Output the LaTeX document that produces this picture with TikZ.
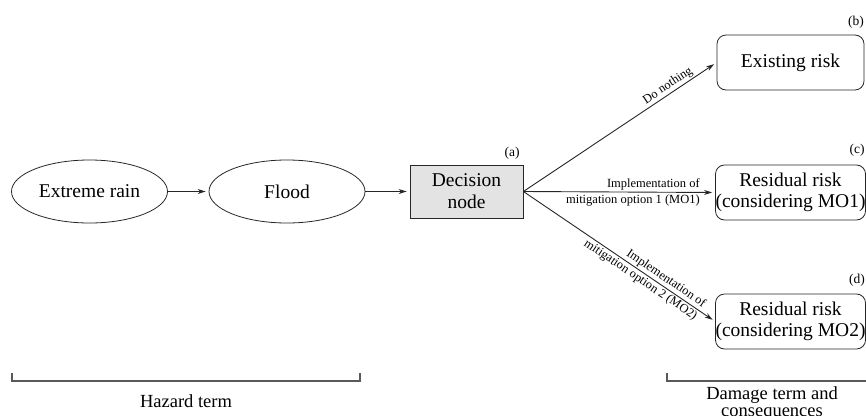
\documentclass[tikz,border=0pt]{standalone}
\usepackage{fontspec}
\setmainfont{Liberation Serif}
\usetikzlibrary{shapes.geometric,arrows.meta}
\begin{document}
\begin{tikzpicture}[x=1pt,y=-1pt,
  big/.style={font=\fontsize{19.5}{22}\selectfont},
  small/.style={font=\fontsize{12.5}{14}\selectfont},
  term/.style={font=\fontsize{18.5}{17}\selectfont, align=center},
  eventnode/.style={ellipse, draw=black!85, line width=0.8pt, inner sep=0pt,
    minimum width=156pt, minimum height=63pt, big},
  decisionbox/.style={rectangle, draw=black!85, fill=black!11, line width=0.8pt,
    inner sep=0pt, minimum width=113pt, minimum height=53pt, big, align=center},
  riskbox/.style={rectangle, rounded corners=9pt, draw=black!85, line width=0.8pt,
    inner sep=0pt, minimum width=147pt, minimum height=55pt, big, align=center},
  flow/.style={draw=black!85, line width=0.9pt, -{Stealth[length=8pt,width=5pt]}, shorten >=3pt},
  bracket/.style={draw=black!65, line width=1.3pt},
  tag/.style={font=\fontsize{13.5}{15}\selectfont, inner sep=0pt}
]
\useasboundingbox (0,0) rectangle (866,415);

% hazard chain
\node[eventnode] (rain)  at (89.5,191.5) {Extreme rain};
\node[eventnode] (flood) at (287,191.5) {Flood};
\node[decisionbox] (dec) at (466.5,191.5) {Decision\\node};

% consequences
\node[riskbox] (exist) at (790.5,62.5)  {Existing risk};
\node[riskbox] (mo1)   at (790.5,192.5) {Residual risk\\[-1pt](considering MO1)};
\node[riskbox] (mo2)   at (790.5,321.5) {Residual risk\\[-1pt](considering MO2)};

% panel tags
\node[tag] (ta) at (512,153) {(a)};
\node[tag] (tb) at (856,22)  {(b)};
\node[tag] (tc) at (857,150) {(c)};
\node[tag] (td) at (857,280) {(d)};

% connectors
\draw[flow] (rain.east) -- (flood.west);
\draw[flow] (flood.east) -- (dec.west);
\draw[flow] (dec.east) -- (exist.west)
  node[pos=0.9, sloped, anchor=south east, small, inner sep=1.5pt] {Do nothing};
\draw[flow] (dec.east) -- (mo1.west)
  node[pos=0.93, anchor=south east, small, inner sep=1.5pt] {Implementation of}
  node[pos=0.93, anchor=north east, small, inner sep=1.5pt] {mitigation option 1 (MO1)};
\draw[flow] (dec.east) -- (mo2.west)
  node[pos=0.93, sloped, anchor=south east, small, inner sep=1.5pt] {Implementation of}
  node[pos=0.93, sloped, anchor=north east, small, inner sep=1.5pt] {mitigation option 2 (MO2)};

% term brackets
\coordinate (h1) at (12,373);
\coordinate (h2) at (360,373);
\coordinate (d1) at (667,373);
\coordinate (d2) at (866,381);
\draw[bracket] (h1) |- (h2 |- 0,381) -- (h2);
\draw[bracket] (d1) |- (d2);
\node[term, anchor=base] (hazard) at (186,407) {Hazard term};
\node[term, anchor=north] (damage) at (772,383) {Damage term and\\consequences};
\end{tikzpicture}
\end{document}
